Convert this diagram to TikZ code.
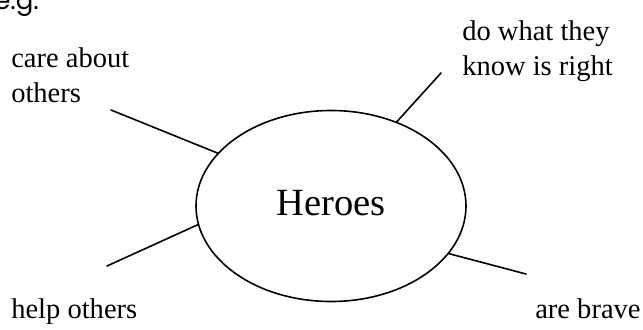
\documentclass[tikz,border=0pt]{standalone}
\usepackage{fontspec}
\setmainfont{Liberation Serif}
\newfontfamily\egfont{Poppins}
\usetikzlibrary{shapes.geometric}
\begin{document}
\begin{tikzpicture}[x=0.75pt,y=-0.75pt,
  conn/.style={line width=1.2pt, line cap=round},
  lbl/.style={anchor=base west, inner sep=0pt, align=left,
    font=\fontsize{21.4pt}{26.25pt}\selectfont},
  hub/.style={ellipse, draw, line width=1.2pt, minimum width=270*0.75pt,
    minimum height=191*0.75pt, inner sep=0pt, text depth=4pt,
    font=\fontsize{28.9pt}{34pt}\selectfont}]
\useasboundingbox (0,0) rectangle (643,329);
\node[anchor=base west, inner sep=0pt, font=\egfont\fontsize{19.5pt}{23pt}\selectfont] (eg) at (-6,9) {e.g.};
\node[hub] (h) at (331,206) {Heroes};
\node[lbl] (care) at (11,102) {care about\\others};
\node[lbl] (do) at (462,75) {do what they\\know is right};
\node[lbl] (help) at (11,318) {help others};
\node[lbl] (brave) at (535,318) {are brave};
\coordinate (c1) at (111,110);
\coordinate (c2) at (441,73);
\coordinate (c3) at (107,266);
\coordinate (c4) at (526,274);
\draw[conn] (c1) -- (h.155.7);
\draw[conn] (c2) -- (h.52.8);
\draw[conn] (c3) -- (h.188.1);
\draw[conn] (c4) -- (h.338.8);
\end{tikzpicture}
\end{document}
